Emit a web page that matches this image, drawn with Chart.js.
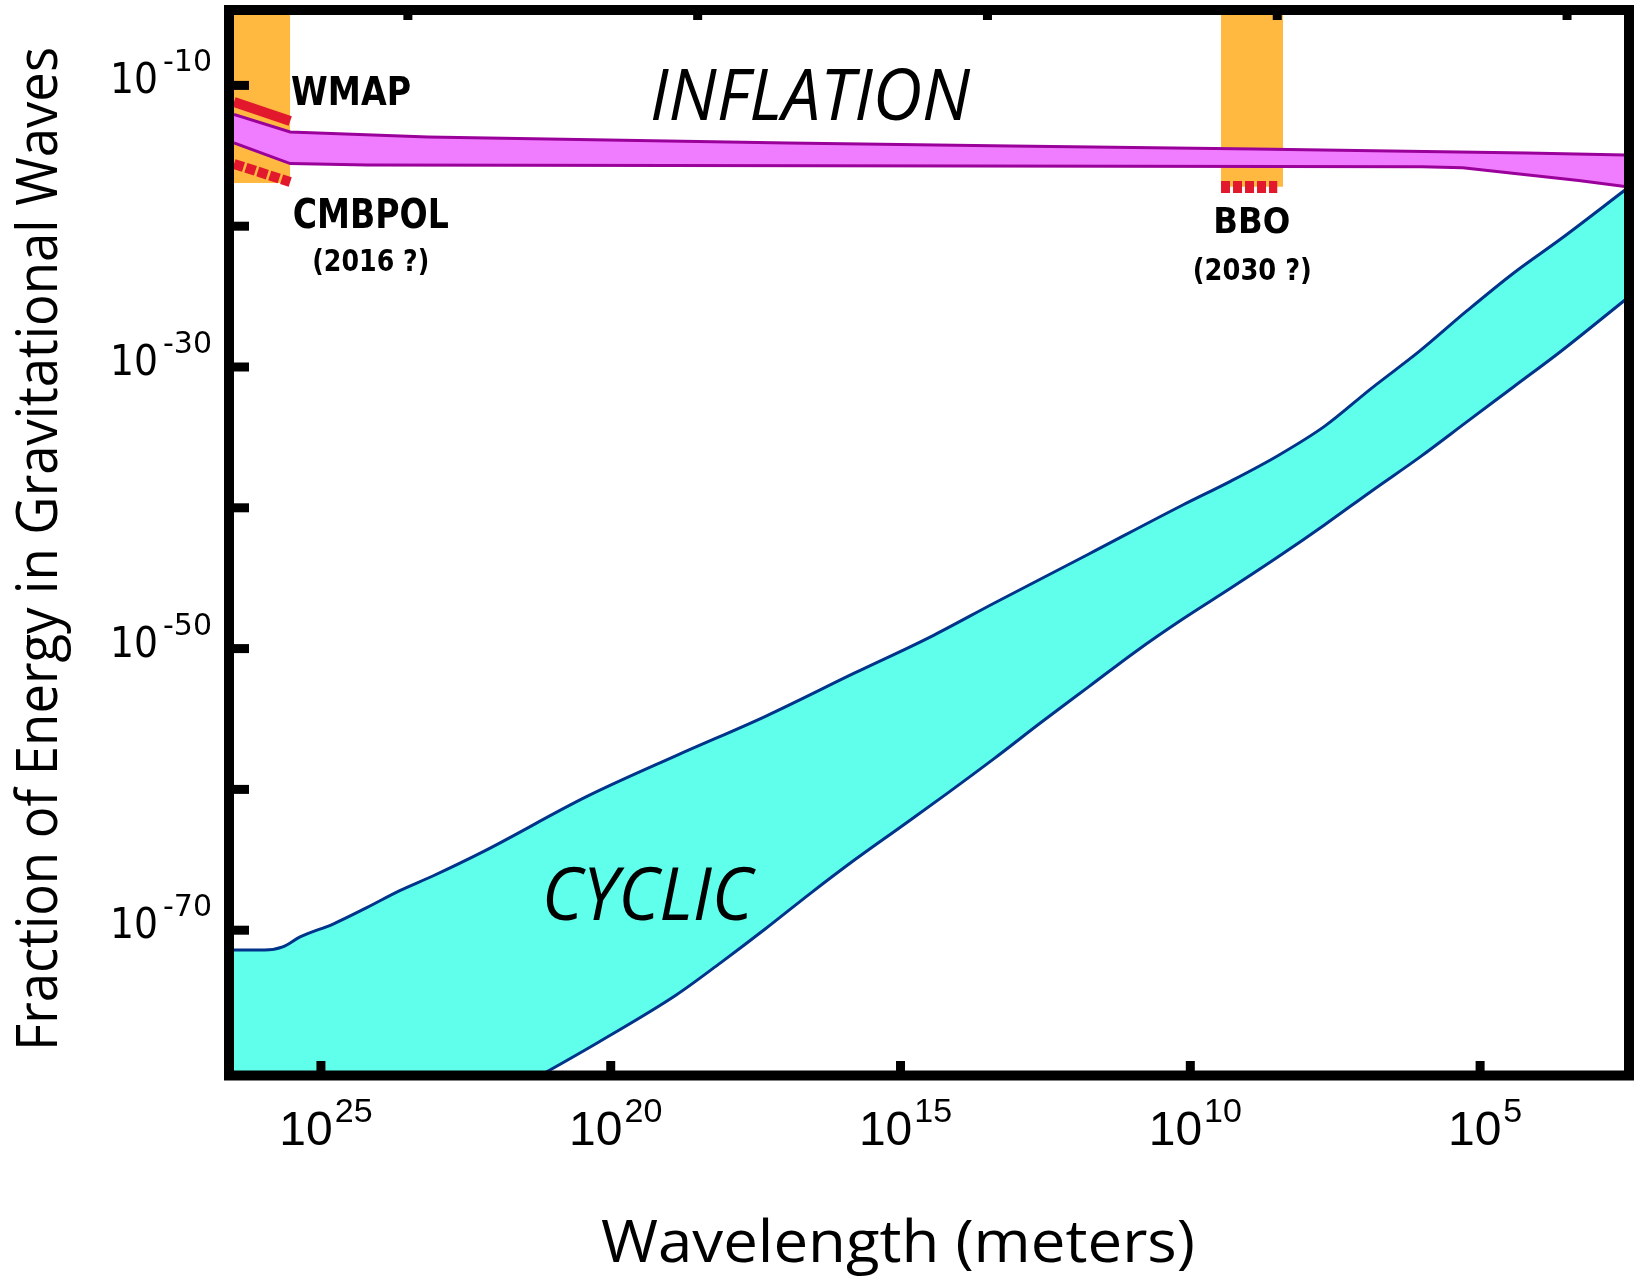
<!DOCTYPE html>
<html>
<head>
<meta charset="utf-8">
<title>Fraction of Energy in Gravitational Waves</title>
<script src="https://cdn.jsdelivr.net/npm/chart.js@4.4.1/dist/chart.umd.min.js"></script>
<style>
  html, body { margin: 0; padding: 0; background: #fff; }
  canvas { display: block; }
</style>
</head>
<body>
<canvas id="chart" width="1640" height="1277"></canvas>
<script>
// Every value is a base-10 exponent:
// x = log10(wavelength in m), y = log10(fraction of energy in gravitational waves)
const X_RANGE = [2.5, 26.5];
const Y_RANGE = [-80, -5];

const xTickExps = [25, 20, 15, 10, 5];
const topTickExps = [23.5, 18.5, 13.5, 8.5, 3.5];
const yTickExps = [-10, -20, -30, -40, -50, -60, -70];
const yLabelExps = [-10, -30, -50, -70];

// INFLATION band (magenta)
const inflationTopX = [26.5, 25.53, 23.15, 16.94, 13.09, 8.88, 4.19, 2.5];
const inflationTopY = [-12.06, -13.31, -13.66, -14.09, -14.30, -14.52, -14.80, -14.94];
const inflationBottomX = [26.5, 25.53, 24.2, 6.0, 5.3, 4.4, 3.3, 2.5];
const inflationBottomY = [-14.09, -15.55, -15.65, -15.78, -15.85, -16.25, -16.75, -17.18];

// CYCLIC band (cyan)
const cyclicTopX = [26.5, 25.97, 25.66, 25.36, 24.79, 24.21, 23.64, 23.07, 22.2, 20.41, 18.87, 17.32, 15.79,
  14.49, 13.38, 11.75, 10.13, 9.3, 8.49, 7.68, 6.87, 6.04, 5.23, 4.42, 3.61, 2.5];
const cyclicTopY = [-71.41, -71.41, -71.19, -70.48, -69.56, -68.4, -67.19, -66.15, -64.42, -60.5, -57.6, -54.79, -51.73,
  -49.18, -46.76, -43.28, -39.8, -38.1, -36.3, -34.2, -31.5, -28.86, -26.02, -23.32, -20.91, -17.43];
const cyclicBottomX = [26.5, 21.05, 20.19, 18.87, 18.1, 17.33, 16.56, 15.79, 15.01, 14.2, 13.38, 12.56,
  11.75, 10.94, 10.13, 9.3, 8.49, 7.68, 6.87, 6.04, 5.23, 4.42, 3.61, 2.5];
const cyclicBottomY = [-92.4, -79.93, -77.9, -74.6, -72.3, -69.9, -67.4, -65.0, -62.7, -60.3, -57.8, -55.2,
  -52.7, -50.2, -47.9, -45.7, -43.5, -41.2, -38.8, -36.4, -33.9, -31.4, -28.9, -25.24];

// detector windows (orange) and sensitivity limits (red)
const cmbWindowX = [26.5, 25.53];
const cmbWindowFloor = -16.93;
const bboWindowX = [9.47, 8.40];
const bboWindowFloor = -17.19;
const wmapLimitX = [26.5, 25.53];
const wmapLimitY = [-11.18, -12.53];
const cmbpolLimitX = [26.5, 25.53];
const cmbpolLimitY = [-15.58, -16.86];
const bboLimitX = [9.47, 8.50];
const bboLimitY = [-17.22, -17.22];

const ORANGE = "#ffb940";
const RED = "#e2192c";

const pts = (xs, ys) => xs.map((x, i) => ({ x: 10 ** x, y: 10 ** ys[i] }));
const flat = (xs, y) => xs.map((x) => ({ x: 10 ** x, y: 10 ** y }));

const datasets = [
  { data: flat(cmbWindowX, cmbWindowFloor), borderWidth: 0, backgroundColor: ORANGE, fill: "end", order: 10 },
  { data: flat(bboWindowX, bboWindowFloor), borderWidth: 0, backgroundColor: ORANGE, fill: "end", order: 10 },
  { data: pts(inflationTopX, inflationTopY), borderColor: "#9a009a", borderWidth: 3, backgroundColor: "#f07cff", fill: "+1", order: 9 },
  { data: pts(inflationBottomX, inflationBottomY), borderColor: "#9a009a", borderWidth: 3, fill: false, order: 8 },
  { data: pts(cyclicTopX, cyclicTopY), borderColor: "#00338a", borderWidth: 3, backgroundColor: "#5fffec",
    fill: "+1", cubicInterpolationMode: "monotone", order: 7 },
  { data: pts(cyclicBottomX, cyclicBottomY), borderColor: "#00338a", borderWidth: 3, fill: false,
    cubicInterpolationMode: "monotone", order: 6 },
  { data: pts(wmapLimitX, wmapLimitY), borderColor: RED, borderWidth: 10, fill: false, order: 1 },
  { data: pts(cmbpolLimitX, cmbpolLimitY), borderColor: RED, borderWidth: 10, borderDash: [10, 2.5], fill: false, order: 1 },
  { data: pts(bboLimitX, bboLimitY), borderColor: RED, borderWidth: 12, borderDash: [9, 3], fill: false, order: 1 },
];

// text placed in data coordinates
const notes = [
  { text: "INFLATION", lx: 16.56, ly: -12.46, font: "italic 72px 'Open Sans'", width: 320 },
  { text: "CYCLIC", lx: 19.37, ly: -69.28, font: "italic 73px 'Open Sans'", width: 211 },
  { text: "WMAP", lx: 24.48, ly: -11.39, font: "bold 39px 'DejaVu Sans'", width: 120 },
  { text: "CMBPOL", lx: 24.14, ly: -20.13, font: "bold 40px 'DejaVu Sans'", width: 156 },
  { text: "(2016 ?)", lx: 24.14, ly: -23.18, font: "bold 30px 'DejaVu Sans'", width: 117 },
  { text: "BBO", lx: 8.94, ly: -20.48, font: "bold 36px 'DejaVu Sans'", width: 77 },
  { text: "(2030 ?)", lx: 8.93, ly: -23.82, font: "bold 31px 'DejaVu Sans'", width: 119 },
];

function fitText(ctx, text, x, baseline, font, width, align) {
  ctx.save();
  ctx.font = font;
  const w = ctx.measureText(text).width;
  ctx.translate(x, baseline);
  ctx.scale(width ? width / w : 1, 1);
  ctx.textAlign = align || "center";
  ctx.textBaseline = "alphabetic";
  ctx.fillText(text, 0, 0);
  ctx.restore();
}

const frameAxes = {
  id: "frameAxes",
  afterDraw(chart) {
    const { ctx, chartArea: a, scales } = chart;
    const xs = scales.x, ys = scales.y;
    ctx.save();
    ctx.fillStyle = "#000";

    // inward tick marks
    yTickExps.forEach((e) => ctx.fillRect(a.left, ys.getPixelForValue(10 ** e) - 4.5, 15, 9));
    xTickExps.forEach((e) => ctx.fillRect(xs.getPixelForValue(10 ** e) - 4.5, a.bottom - 10, 9, 10));
    topTickExps.forEach((e) => ctx.fillRect(xs.getPixelForValue(10 ** e) - 4.5, a.top, 9, 5));

    // heavy frame
    ctx.strokeStyle = "#000";
    ctx.lineWidth = 10;
    ctx.strokeRect(a.left - 5, a.top - 5, a.right - a.left + 9, a.bottom - a.top + 9.5);

    // y tick labels: 10^e
    yLabelExps.forEach((e) => {
      const py = ys.getPixelForValue(10 ** e);
      fitText(ctx, "10", 110, py + 8, "42px 'DejaVu Sans'", 48, "left");
      fitText(ctx, String(e), 163, py - 14, "30px 'DejaVu Sans'", 49, "left");
    });

    // x tick labels: 10^e
    xTickExps.forEach((e) => {
      const px = xs.getPixelForValue(10 ** e) + 5;
      ctx.font = "48px 'Liberation Sans'";
      const wb = ctx.measureText("10").width;
      ctx.font = "34px 'Liberation Sans'";
      const we = ctx.measureText(String(e)).width;
      const start = px - (wb + 2 + we) / 2;
      ctx.textAlign = "left";
      ctx.textBaseline = "alphabetic";
      ctx.font = "48px 'Liberation Sans'";
      ctx.fillText("10", start, a.bottom + 74);
      ctx.font = "34px 'Liberation Sans'";
      ctx.fillText(String(e), start + wb + 2, a.bottom + 51);
    });

    // axis titles
    fitText(ctx, "Wavelength (meters)", 898, 1262, "59px 'Open Sans'", 594);
    ctx.save();
    ctx.translate(57, 549);
    ctx.rotate(-Math.PI / 2);
    fitText(ctx, "Fraction of Energy in Gravitational Waves", 0, 0, "56px 'Open Sans'", 1004);
    ctx.restore();

    // annotations
    notes.forEach((n) => {
      fitText(ctx, n.text, xs.getPixelForValue(10 ** n.lx), ys.getPixelForValue(10 ** n.ly), n.font, n.width);
    });
    ctx.restore();
  },
};

new Chart(document.getElementById("chart"), {
  type: "line",
  data: { datasets },
  options: {
    responsive: false,
    animation: false,
    events: [],
    layout: { padding: { left: 234, top: 15, right: 15, bottom: 206 } },
    elements: { point: { radius: 0 }, line: { tension: 0 } },
    plugins: { legend: { display: false }, tooltip: { enabled: false } },
    scales: {
      x: { type: "logarithmic", reverse: true, min: 10 ** X_RANGE[0], max: 10 ** X_RANGE[1], display: false },
      y: { type: "logarithmic", min: 10 ** Y_RANGE[0], max: 10 ** Y_RANGE[1], display: false },
    },
  },
  plugins: [frameAxes],
});
</script>
</body>
</html>
